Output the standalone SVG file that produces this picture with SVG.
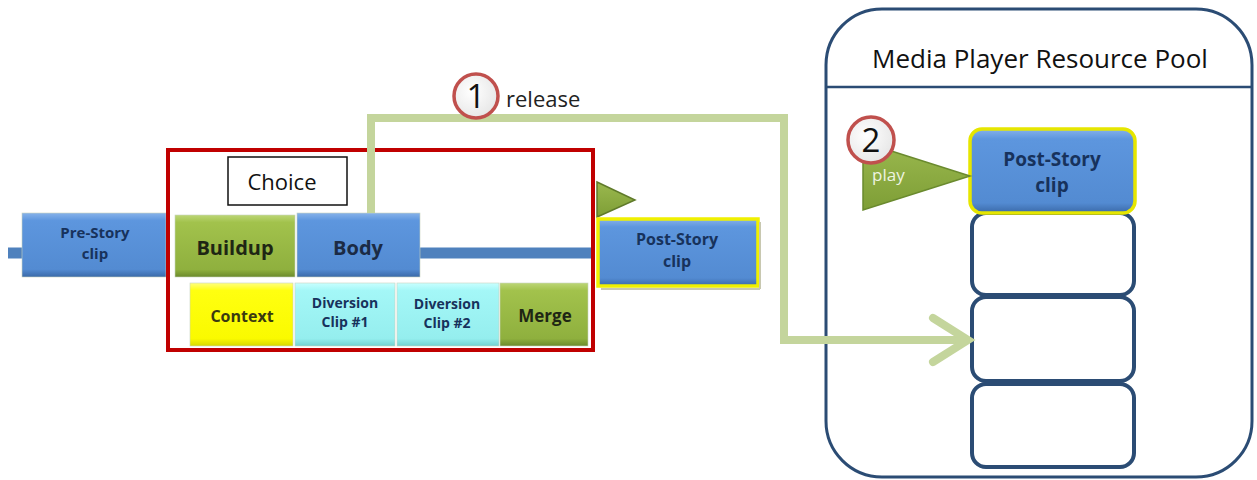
<svg xmlns="http://www.w3.org/2000/svg" width="1257" height="480" viewBox="0 0 1257 480">
<defs>
<linearGradient id="gBlue" x1="0" y1="0" x2="0" y2="1">
<stop offset="0" stop-color="#86b2ea"/><stop offset="0.12" stop-color="#5d96de"/><stop offset="0.88" stop-color="#538bd2"/><stop offset="1" stop-color="#3a69a8"/>
</linearGradient>
<linearGradient id="gGreen" x1="0" y1="0" x2="0" y2="1">
<stop offset="0" stop-color="#bcd676"/><stop offset="0.12" stop-color="#a2c24c"/><stop offset="0.88" stop-color="#8fb03e"/><stop offset="1" stop-color="#6b8a2b"/>
</linearGradient>
<linearGradient id="gYellow" x1="0" y1="0" x2="0" y2="1">
<stop offset="0" stop-color="#ffff80"/><stop offset="0.12" stop-color="#ffff10"/><stop offset="0.88" stop-color="#fafa00"/><stop offset="1" stop-color="#d8d800"/>
</linearGradient>
<linearGradient id="gCyan" x1="0" y1="0" x2="0" y2="1">
<stop offset="0" stop-color="#c8ffff"/><stop offset="0.12" stop-color="#a4f7f7"/><stop offset="0.88" stop-color="#95eeee"/><stop offset="1" stop-color="#72d0d0"/>
</linearGradient>
<linearGradient id="gTri" x1="0" y1="0" x2="0" y2="1">
<stop offset="0" stop-color="#9ab84e"/><stop offset="1" stop-color="#7e9e36"/>
</linearGradient>
<radialGradient id="gCirc" cx="0.4" cy="0.4" r="0.7">
<stop offset="0" stop-color="#ffffff"/><stop offset="1" stop-color="#e4e4e4"/>
</radialGradient>
</defs>
<style>
text{font-family:"Open Sans","Liberation Sans",sans-serif;}
.lbl{font-weight:bold;text-anchor:middle;}
.navy{fill:#17325c;}
.dark{fill:#1e2614;}
.blk{stroke:#c8d4c0;stroke-width:0.6;}
.slot{fill:#ffffff;stroke:#2b4c74;stroke-width:4;}
.conn{fill:none;stroke:#c4d59c;stroke-width:8;stroke-linejoin:miter;}
.circ{fill:url(#gCirc);stroke:#c0504d;stroke-width:3.5;}
.num{font-size:33px;text-anchor:middle;fill:#111;}
.bar{stroke:#4f81bd;stroke-width:11;}
</style>
<rect width="1257" height="480" fill="#ffffff"/>

<g id="pool">
<rect x="826" y="9" width="426" height="468" rx="56" fill="#ffffff" stroke="#2b4c74" stroke-width="3"/>
<line x1="826" y1="87" x2="1252" y2="87" stroke="#2b4c74" stroke-width="2.5"/>
<text x="1040" y="68" font-size="26" text-anchor="middle" fill="#111">Media Player Resource Pool</text>
</g>

<g id="slot2"><rect class="slot" x="972" y="213" width="162" height="82" rx="14"/></g>
<g id="slot3"><rect class="slot" x="972" y="297" width="162" height="84" rx="14"/></g>
<g id="slot4"><rect class="slot" x="972" y="384" width="162" height="83" rx="14"/></g>

<g id="pool-post-story">
<rect x="970" y="129" width="165" height="84" rx="12" fill="url(#gBlue)" stroke="#e6e600" stroke-width="3.5"/>
<text class="lbl navy" x="1052" y="166" font-size="19">Post-Story</text>
<text class="lbl navy" x="1052" y="192" font-size="19">clip</text>
</g>

<g id="play">
<polygon points="863,142 970,176 863,210" fill="url(#gTri)" stroke="#6a8a2e" stroke-width="1.5"/>
<text x="872" y="181" font-size="17" fill="#eef4e0">play</text>
</g>
<g id="step2">
<circle class="circ" cx="871" cy="140" r="23"/>
<text class="num" x="871" y="152">2</text>
</g>

<g id="bars">
<line class="bar" x1="8" y1="253" x2="24" y2="253"/>
<line class="bar" x1="418" y1="253" x2="593" y2="253"/>
</g>

<g id="pre-story">
<rect class="blk" x="22" y="213" width="144" height="64" fill="url(#gBlue)"/>
<text class="lbl navy" x="95" y="238" font-size="15">Pre-Story</text>
<text class="lbl navy" x="95" y="259" font-size="15">clip</text>
</g>

<g id="buildup">
<rect class="blk" x="175" y="215" width="120" height="62" fill="url(#gGreen)"/>
<text class="lbl dark" x="235" y="255" font-size="20">Buildup</text>
</g>

<g id="body">
<rect class="blk" x="297" y="213" width="123" height="64" fill="url(#gBlue)"/>
<text class="lbl dark" x="358" y="255" font-size="20" style="fill:#1b2b45">Body</text>
</g>

<g id="context">
<rect class="blk" x="190" y="283" width="103" height="63" fill="url(#gYellow)"/>
<text class="lbl" x="242" y="322" font-size="16" fill="#3a3a10">Context</text>
</g>

<g id="diversion1">
<rect class="blk" x="295" y="283" width="100" height="63" fill="url(#gCyan)"/>
<text class="lbl navy" x="345" y="308" font-size="14">Diversion</text>
<text class="lbl navy" x="345" y="327" font-size="14">Clip #1</text>
</g>

<g id="diversion2">
<rect class="blk" x="397" y="283" width="102" height="63" fill="url(#gCyan)"/>
<text class="lbl navy" x="447" y="309" font-size="14">Diversion</text>
<text class="lbl navy" x="447" y="328" font-size="14">Clip #2</text>
</g>

<g id="merge">
<rect class="blk" x="500" y="283" width="88" height="63" fill="url(#gGreen)"/>
<text class="lbl dark" x="545" y="322" font-size="17">Merge</text>
</g>

<g id="choice">
<rect x="228" y="157" width="119" height="48" fill="#ffffff" stroke="#111" stroke-width="1.5"/>
<text x="282" y="190" font-size="22" text-anchor="middle" fill="#111">Choice</text>
<rect x="168" y="150" width="425" height="200" fill="none" stroke="#c00000" stroke-width="4"/>
</g>

<g id="trigger">
<polygon points="597,182 635,200 597,217" fill="url(#gTri)" stroke="#5f7a2a" stroke-width="1.5"/>
</g>

<g id="post-story">
<rect x="598" y="219" width="160" height="67" fill="url(#gBlue)" stroke="#f0f000" stroke-width="3.5"/>
<line x1="760" y1="222" x2="760" y2="289" stroke="#c8c8b0" stroke-width="2"/>
<line x1="601" y1="289" x2="760" y2="289" stroke="#c8c8b0" stroke-width="2"/>
<text class="lbl navy" x="677" y="245" font-size="16">Post-Story</text>
<text class="lbl navy" x="677" y="267" font-size="16">clip</text>
</g>

<g id="connectors">
<path class="conn" d="M371,213 V118 H784 V340 H966"/>
<polyline class="conn" points="933,318 968,340 933,362" stroke-linecap="round"/>
</g>

<g id="step1">
<circle class="circ" cx="476" cy="96" r="22"/>
<text class="num" x="476" y="108">1</text>
<text x="506" y="107" font-size="22" fill="#222">release</text>
</g>
</svg>
